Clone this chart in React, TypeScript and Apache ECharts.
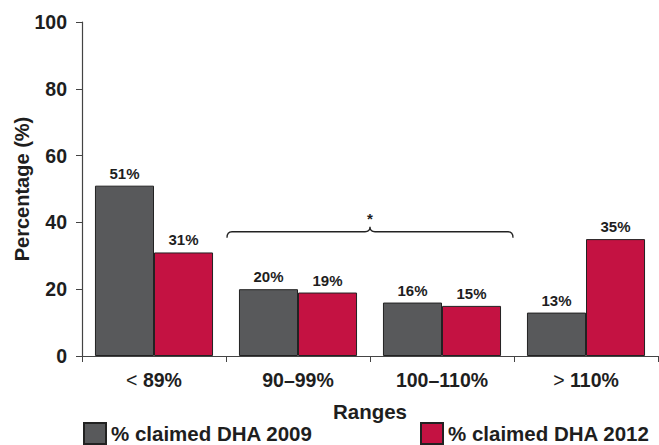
import React, { useEffect, useRef } from "react";
import * as echarts from "echarts";

const categories = ["< 89%", "90–99%", "100–110%", "> 110%"];
const series2009 = [51, 20, 16, 13];
const series2012 = [31, 19, 15, 35];
const seriesNames = ["% claimed DHA 2009", "% claimed DHA 2012"];
const yTicks = { min: 0, max: 100, interval: 20 };
// significance brace: from category index 1 to 2, at value level, with label
const braceData = [[1, 2, 37.2]];
const braceLabel = "*";

const FONT = "'Liberation Sans', Arial, Helvetica, sans-serif";
const GREY = "#58595b";
const RED = "#c41242";
const INK = "#1e1e1e";

export default function App() {
  const ref = useRef<HTMLDivElement>(null);
  useEffect(() => {
    if (!ref.current) return;
    const chart = echarts.init(ref.current, undefined, { renderer: "svg" });
    const labelOpt = {
      show: true,
      position: "top",
      distance: 5,
      formatter: (p: any) => `${p.value}%`,
      color: INK,
      fontFamily: FONT,
      fontWeight: "bold",
      fontSize: 15,
    };
    const legendText = { fontFamily: FONT, fontWeight: "bold", fontSize: 20.5, color: INK };
    chart.setOption({
      animation: false,
      backgroundColor: "#ffffff",
      textStyle: { fontFamily: FONT },
      grid: {
        left: 82,
        right: 1,
        top: 22,
        bottom: 89,
        containLabel: false,
        outerBoundsMode: "none",
      },
      legend: [
        {
          data: [seriesNames[0]],
          left: 83,
          top: 422,
          icon: "rect",
          itemWidth: 22,
          itemHeight: 21,
          itemGap: 8,
          padding: 0,
          textStyle: legendText,
        },
        {
          data: [seriesNames[1]],
          left: 420,
          top: 422,
          icon: "rect",
          itemWidth: 22,
          itemHeight: 21,
          itemGap: 8,
          padding: 0,
          textStyle: legendText,
        },
      ],
      xAxis: {
        type: "category",
        data: categories,
        name: "Ranges",
        nameLocation: "middle",
        nameGap: 45,
        nameMoveOverlap: false,
        nameTextStyle: { fontFamily: FONT, fontWeight: "bold", fontSize: 20.5, color: INK },
        axisLine: { show: true, lineStyle: { color: "#444", width: 1.2 } },
        axisTick: { show: true, length: 6, alignWithLabel: false, lineStyle: { color: "#444" } },
        axisLabel: {
          margin: 14,
          formatter: (v: string) => {
            const m = v.match(/^([<>])\s*(.*)$/);
            if (m) return `{op|${m[1]}}{b| ${m[2]}}`;
            return `{b|${v}}`;
          },
          rich: {
            op: { fontFamily: FONT, fontWeight: "normal", fontSize: 19.5, color: INK },
            b: { fontFamily: FONT, fontWeight: "bold", fontSize: 19.5, color: INK },
          },
        },
      },
      yAxis: {
        type: "value",
        min: yTicks.min,
        max: yTicks.max,
        interval: yTicks.interval,
        name: "Percentage (%)",
        nameLocation: "middle",
        nameGap: 50,
        nameMoveOverlap: false,
        nameTextStyle: { fontFamily: FONT, fontWeight: "bold", fontSize: 20, color: INK },
        splitLine: { show: false },
        axisLine: { show: true, lineStyle: { color: "#444", width: 1.2 } },
        axisTick: { show: true, length: 6, lineStyle: { color: "#444" } },
        axisLabel: {
          margin: 15,
          fontFamily: FONT,
          fontWeight: "bold",
          fontSize: 19.5,
          color: INK,
        },
      },
      series: [
        {
          name: seriesNames[0],
          type: "bar",
          data: series2009,
          barGap: "0%",
          barCategoryGap: "18%",
          itemStyle: { color: GREY, borderColor: "#222", borderWidth: 1 },
          label: labelOpt,
        },
        {
          name: seriesNames[1],
          type: "bar",
          data: series2012,
          barGap: "0%",
          barCategoryGap: "18%",
          itemStyle: { color: RED, borderColor: "#222", borderWidth: 1 },
          label: labelOpt,
        },
        {
          type: "custom",
          name: "brace",
          data: braceData,
          encode: { x: [0, 1], y: 2 },
          clip: false,
          silent: true,
          renderItem: (params: any, api: any) => {
            const a = api.coord([api.value(0), api.value(2)]);
            const b = api.coord([api.value(1), api.value(2)]);
            const w = api.size([1, 0])[0];
            const x0 = a[0] - w / 2 + 1;
            const x1 = b[0] + w / 2 - 1;
            const y = a[1];
            const xm = (x0 + x1) / 2;
            const d =
              `M${x0} ${y + 6} Q${x0} ${y} ${x0 + 5} ${y} ` +
              `L${xm - 5} ${y} Q${xm} ${y} ${xm} ${y - 5} ` +
              `Q${xm} ${y} ${xm + 5} ${y} L${x1 - 5} ${y} ` +
              `Q${x1} ${y} ${x1} ${y + 6}`;
            return {
              type: "group",
              children: [
                {
                  type: "path",
                  shape: { pathData: d },
                  style: { stroke: "#222", fill: "none", lineWidth: 1.3 },
                },
                {
                  type: "text",
                  style: {
                    text: braceLabel,
                    x: xm,
                    y: y - 13,
                    align: "center",
                    verticalAlign: "middle",
                    fontFamily: FONT,
                    fontWeight: "bold",
                    fontSize: 15,
                    fill: INK,
                  },
                },
              ],
            };
          },
        },
      ],
    });
    return () => chart.dispose();
  }, []);
  return (
    <div
      ref={ref}
      style={{ position: "fixed", left: 0, top: 0, width: 659, height: 445 }}
    />
  );
}
